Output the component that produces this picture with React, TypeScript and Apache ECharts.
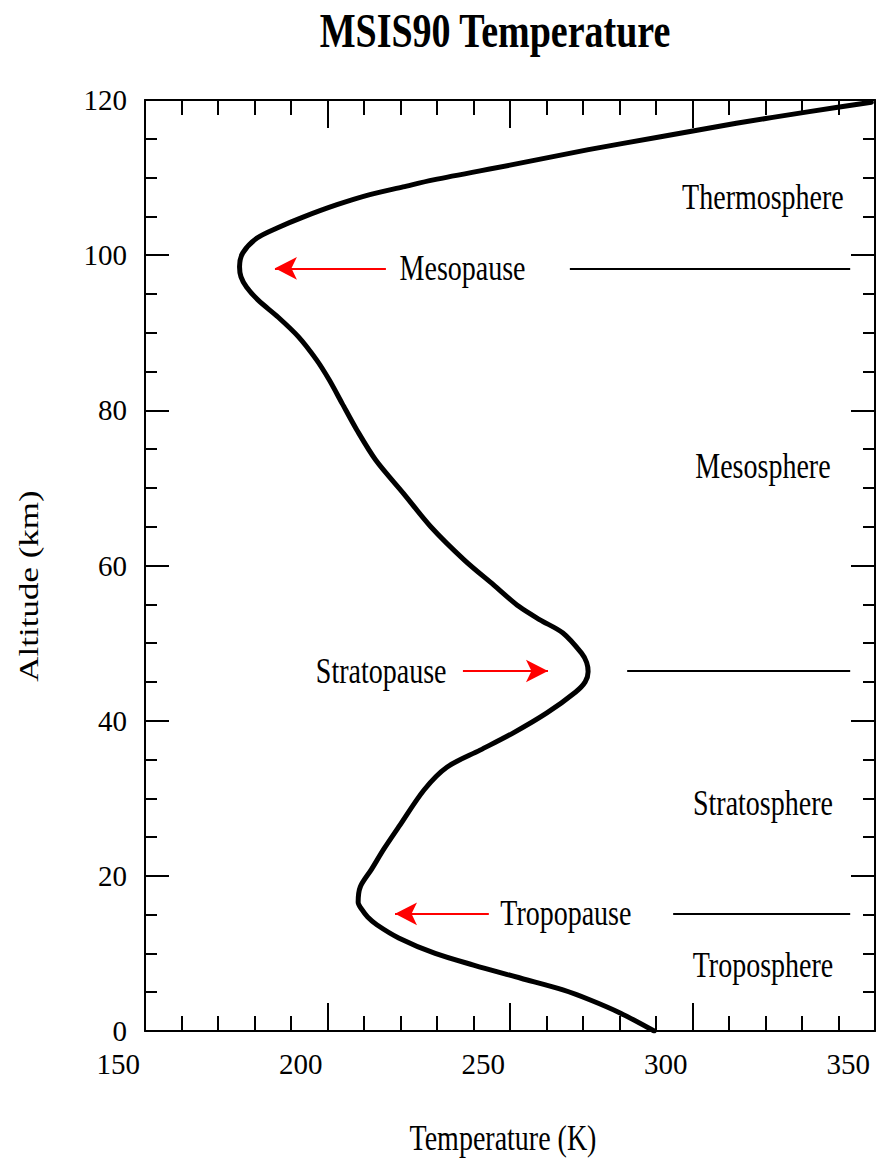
import { useEffect, useRef } from "react";
import * as echarts from "echarts";

// MSIS90 temperature profile: altitude (km) and temperature (K)
const altitudeKm = [
  0, 2.3, 4, 5.3, 6.8, 8.5, 10, 12, 13.7, 14.7,
  15.6, 16.6, 18.6, 20.8, 23.5, 26.3, 31.1, 34, 36.2, 38.4,
  41, 43.7, 45, 46.3, 47.5, 48.7, 51.3, 53, 54.7, 57.5,
  60.7, 65, 69.3, 73.6, 77.5, 80.9, 83.9, 86.5, 89.5, 92,
  94.2, 95.9, 97.2, 98.5, 100.3, 102.2, 103.5, 104.9, 106.5, 107.8,
  108.8, 109.7, 111.6, 113.6, 115.2, 117, 118.5, 119.7,
];
const temperatureK = [
  289.5, 280.3, 272, 264.5, 253, 240, 229.5, 219.5, 213.5, 211,
  209.5, 208.4, 209, 212, 215.5, 219.5, 226.5, 232.7, 241.8, 250.8,
  260.1, 268, 270.6, 271.4, 271, 269.6, 264.5, 258.2, 252.5, 245.5,
  237.5, 228.3, 220.8, 213.2, 208, 204, 200.5, 197, 192, 186.5,
  181, 177.8, 176.3, 175.9, 176.8, 180.7, 186.2, 193.3, 202.6, 211.6,
  220.7, 229, 250, 271.5, 290.5, 312, 332, 349,
];

// Axis ranges
const tempMin = 150;
const tempMax = 350;
const tempStep = 50;
const altMin = 0;
const altMax = 120;
const altStep = 20;

// Pause annotations (altitude, label position, red arrow, boundary line)
const pauseNames = ["Mesopause", "Stratopause", "Tropopause"];
const pauseAltitude = [98.3, 46.4, 15.1];
const pauseLabelTemp = [237, 214.7, 265.3];
const arrowTailTemp = [216, 237.1, 244.2];
const arrowTipTemp = [185.6, 260.4, 218.5];
const boundaryStartTemp = [266.4, 282.1, 294.7];
const boundaryEndTemp = 343.2;

// Atmospheric layer names
const layerNames = ["Thermosphere", "Mesosphere", "Stratosphere", "Troposphere"];
const layerAltitude = [107.5, 72.8, 29.4, 8.4];
const layerLabelTemp = 319.3;

const SERIF = '"Liberation Serif", "Times New Roman", serif';
const STRETCH = 1.25;

export default function App() {
  const ref = useRef<HTMLDivElement>(null);

  useEffect(() => {
    if (!ref.current) return;
    const chart = echarts.init(ref.current, null, { renderer: "svg" });

    const axisLine = { show: true, onZero: false, lineStyle: { color: "#000", width: 2 } };

    const xBase = {
      type: "value" as const,
      min: tempMin,
      max: tempMax,
      interval: tempStep,
      axisLine,
      axisTick: { show: true, inside: true, length: 28, lineStyle: { color: "#000", width: 2 } },
      minorTick: { show: true, splitNumber: 5, length: 15, lineStyle: { color: "#000", width: 2 } },
      splitLine: { show: false },
      minorSplitLine: { show: false },
    };
    const yBase = {
      type: "value" as const,
      min: altMin,
      max: altMax,
      interval: altStep,
      axisLine,
      axisTick: { show: true, inside: true, length: 24, lineStyle: { color: "#000", width: 2 } },
      minorTick: { show: true, splitNumber: 4, length: 12, lineStyle: { color: "#000", width: 2 } },
      splitLine: { show: false },
      minorSplitLine: { show: false },
    };

    const profile = altitudeKm.map((h, i) => [temperatureK[i], h]);

    chart.setOption({
      animation: false,
      backgroundColor: "#fff",
      grid: { left: 145, top: 100, width: 730, height: 931, containLabel: false },
      xAxis: [
        {
          ...xBase,
          position: "bottom",
          axisLabel: {
            show: true,
            color: "#000",
            fontFamily: SERIF,
            fontSize: 29,
            margin: 18,
            align: "right",
            padding: [0, 5, 0, 0],
          },
        },
        { ...xBase, position: "top", axisLabel: { show: false } },
      ],
      yAxis: [
        {
          ...yBase,
          position: "left",
          axisLabel: {
            show: true,
            color: "#000",
            fontFamily: SERIF,
            fontSize: 29,
            margin: 18,
          },
        },
        { ...yBase, position: "right", axisLabel: { show: false } },
      ],
      series: [
        {
          type: "line",
          name: "MSIS90",
          data: profile,
          xAxisIndex: 0,
          yAxisIndex: 0,
          symbol: "none",
          smooth: 0.3,
          lineStyle: { color: "#000", width: 5, cap: "round", join: "round" },
          silent: true,
        },
        {
          type: "line",
          name: "boundaries",
          data: [],
          xAxisIndex: 0,
          yAxisIndex: 0,
          markLine: {
            silent: true,
            symbol: ["none", "none"],
            label: { show: false },
            lineStyle: { color: "#000", width: 2, type: "solid" },
            data: pauseAltitude.map((h, i) => [
              { coord: [boundaryStartTemp[i], h] },
              { coord: [boundaryEndTemp, h] },
            ]),
          },
        },
        {
          type: "line",
          name: "arrows",
          data: [],
          xAxisIndex: 0,
          yAxisIndex: 0,
          markLine: {
            silent: true,
            symbol: ["none", "arrow"],
            symbolSize: [17, 22],
            label: { show: false },
            lineStyle: { color: "#ff0000", width: 2, type: "solid" },
            itemStyle: { color: "#ff0000" },
            data: pauseAltitude.map((h, i) => [
              { coord: [arrowTailTemp[i], h] },
              { coord: [arrowTipTemp[i], h] },
            ]),
          },
        },
      ],
    });

    const toPx = (t: number, h: number) =>
      chart.convertToPixel({ xAxisIndex: 0, yAxisIndex: 0 }, [t, h]) as number[];

    const label = (text: string, x: number, y: number, font: string, extra: object = {}) => ({
      type: "text",
      x,
      y,
      scaleY: STRETCH,
      silent: true,
      style: {
        text,
        font,
        fill: "#000",
        align: "center",
        verticalAlign: "middle",
        textAlign: "center",
        textVerticalAlign: "middle",
      },
      ...extra,
    });

    const graphics: any[] = [];
    graphics.push(label("MSIS90 Temperature", 495, 31, `bold 38px ${SERIF}`));
    graphics.push(label("Temperature (K)", 503, 1138, `28px ${SERIF}`));
    graphics.push(
      label("Altitude (km)", 29, 586, `28px ${SERIF}`, { scaleY: 1, scaleX: STRETCH, rotation: Math.PI / 2 })
    );
    pauseNames.forEach((name, i) => {
      const [x, y] = toPx(pauseLabelTemp[i], pauseAltitude[i]);
      graphics.push(label(name, x, y, `28px ${SERIF}`));
    });
    layerNames.forEach((name, i) => {
      const [x, y] = toPx(layerLabelTemp, layerAltitude[i]);
      graphics.push(label(name, x, y, `28px ${SERIF}`));
    });

    chart.setOption({ graphic: graphics });

    return () => chart.dispose();
  }, []);

  return (
    <div
      ref={ref}
      style={{ position: "absolute", left: 0, top: 0, width: 878, height: 1159, background: "#fff" }}
    />
  );
}
